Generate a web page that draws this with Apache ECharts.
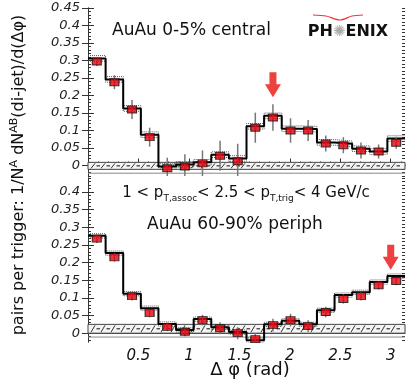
<!DOCTYPE html>
<html>
<head>
<meta charset="utf-8">
<script src="https://cdn.jsdelivr.net/npm/echarts@6/dist/echarts.min.js"></script>
<style>
  html, body { margin: 0; padding: 0; background: #fff; }
  #chart { width: 409px; height: 382px; }
</style>
</head>
<body>
<div id="chart"></div>
<script>
  // 18 bins of delta-phi over 0..pi
  const nBins = 18;
  const binWidth = Math.PI / nBins;

  // AuAu 0-5% central
  const centralPoints = [0.297, 0.238, 0.160, 0.081, -0.008, -0.003, 0.006, 0.028, 0.012,
    0.108, 0.137, 0.100, 0.100, 0.063, 0.058, 0.043, 0.040, 0.065];
  const centralErrors = [0.013, 0.020, 0.027, 0.027, 0.030, 0.035, 0.037, 0.043, 0.050,
    0.043, 0.038, 0.035, 0.030, 0.023, 0.023, 0.023, 0.020, 0.017];
  const centralModel = [0.306, 0.246, 0.163, 0.088, -0.003, 0.003, 0.009, 0.031, 0.020,
    0.112, 0.142, 0.105, 0.104, 0.066, 0.062, 0.048, 0.040, 0.077];
  const centralSys = 0.008;
  // hatched band low, high, lower outline
  const centralBand = [-0.011, 0.009, -0.022];
  const centralArrow = [1.833, 0.195];

  // AuAu 60-90% periph
  const periphPoints = [0.268, 0.215, 0.105, 0.057, 0.018, 0.004, 0.037, 0.014, 0.000,
    -0.017, 0.023, 0.037, 0.020, 0.060, 0.097, 0.105, 0.136, 0.148];
  const periphErrors = [0.012, 0.012, 0.012, 0.012, 0.012, 0.013, 0.015, 0.017, 0.017,
    0.018, 0.018, 0.018, 0.017, 0.015, 0.013, 0.012, 0.012, 0.012];
  const periphModel = [0.276, 0.227, 0.112, 0.071, 0.026, 0.009, 0.040, 0.017, 0.003,
    -0.020, 0.025, 0.035, 0.025, 0.065, 0.108, 0.116, 0.145, 0.162];
  const periphSys = 0.006;
  const periphBand = [0.0, 0.025, -0.011];
  const periphArrow = [3.0, 0.18];

  const xTickLabels = [0.5, 1, 1.5, 2, 2.5, 3];
  const yTickLabelsTop = [0, 0.05, 0.1, 0.15, 0.2, 0.25, 0.3, 0.35, 0.4, 0.45];
  const yTickLabelsBottom = [0, 0.05, 0.1, 0.15, 0.2, 0.25, 0.3, 0.35, 0.4];

  const FONT = "'DejaVu Sans', sans-serif";
  const AXIS_COLOR = '#333';
  const ARROW_PATH = 'path://M4.5,0 H11.5 V12 H16 L8,25 L0,12 H4.5 Z';

  const binCenters = centralPoints.map((v, i) => (i + 0.5) * binWidth);

  const panels = [
    { min: -0.03, max: 0.45, labels: yTickLabelsTop, showX: false,
      points: centralPoints, errors: centralErrors, model: centralModel,
      sys: centralSys, band: centralBand, arrow: centralArrow },
    { min: -0.025, max: 0.44, labels: yTickLabelsBottom, showX: true,
      points: periphPoints, errors: periphErrors, model: periphModel,
      sys: periphSys, band: periphBand, arrow: periphArrow },
  ];

  const range = (from, to, step) => {
    const out = [];
    for (let v = Math.ceil(from / step - 1e-9) * step; v <= to + 1e-9; v += step) {
      out.push(Math.round(v * 1000) / 1000);
    }
    return out;
  };

  const stepData = model => model.map((v, i) => [i * binWidth, v])
    .concat([[Math.PI, model[model.length - 1]]]);

  const grid = [
    { left: 88, right: 4, top: 8, height: 168 },
    { left: 88, right: 4, top: 178, height: 164 },
  ];

  const xAxis = [];
  const yAxis = [];
  const series = [];

  panels.forEach((p, g) => {
    const xBase = xAxis.length;
    const yBase = yAxis.length;
    const xMajor = range(0, Math.PI, 0.5);
    const xMinor = range(0, Math.PI, 0.1);
    const yMajor = range(p.min, p.max, 0.05);
    const yMinor = range(p.min, p.max, 0.01);

    xAxis.push({
      type: 'value', gridIndex: g, min: 0, max: Math.PI, position: 'bottom',
      axisLine: { lineStyle: { color: AXIS_COLOR, width: 1 } },
      axisTick: { inside: true, length: 7, customValues: xMajor, lineStyle: { color: AXIS_COLOR } },
      axisLabel: {
        show: p.showX, customValues: xTickLabels, margin: 7,
        fontFamily: FONT, fontStyle: 'italic', fontSize: 15, color: '#111',
      },
      splitLine: { show: false },
    });
    xAxis.push({
      type: 'value', gridIndex: g, min: 0, max: Math.PI, position: 'bottom',
      axisLine: { show: false },
      axisTick: { inside: true, length: 4, customValues: xMinor, lineStyle: { color: AXIS_COLOR } },
      axisLabel: { show: false },
      splitLine: { show: false },
    });
    xAxis.push({
      type: 'value', gridIndex: g, min: 0, max: Math.PI, position: 'top',
      axisLine: { show: g === 0, lineStyle: { color: '#777' } },
      axisTick: { show: false },
      axisLabel: { show: false },
      splitLine: { show: false },
    });

    ['left', 'right'].forEach((pos) => {
      yAxis.push({
        type: 'value', gridIndex: g, min: p.min, max: p.max, position: pos,
        axisLine: { show: true, lineStyle: { color: AXIS_COLOR } },
        axisTick: { inside: true, length: 6, customValues: yMajor, lineStyle: { color: AXIS_COLOR } },
        axisLabel: {
          show: pos === 'left', customValues: p.labels, margin: 8,
          fontFamily: FONT, fontStyle: 'italic', fontSize: 13, color: '#222',
        },
        splitLine: { show: false },
      });
      yAxis.push({
        type: 'value', gridIndex: g, min: p.min, max: p.max, position: pos,
        axisLine: { show: false },
        axisTick: { inside: true, length: 3, customValues: yMinor, lineStyle: { color: AXIS_COLOR } },
        axisLabel: { show: false },
        splitLine: { show: false },
      });
    });

    const ax = { xAxisIndex: xBase, yAxisIndex: yBase };

    // systematic band around zero
    series.push({
      type: 'custom', ...ax, z: 1, silent: true,
      data: [[0, p.band[0], p.band[1], p.band[2]]],
      renderItem(params, api) {
        const tl = api.coord([0, api.value(2)]);
        const br = api.coord([Math.PI, api.value(1)]);
        const floor = api.coord([0, api.value(3)])[1];
        const yMid = (tl[1] + br[1]) / 2;
        const children = [
          { type: 'rect', shape: { x: tl[0], y: tl[1], width: br[0] - tl[0], height: br[1] - tl[1] },
            style: { fill: '#f4f4f4', stroke: '#444', lineWidth: 1 } },
          { type: 'line', shape: { x1: tl[0], y1: floor, x2: br[0], y2: floor },
            style: { stroke: '#888', lineWidth: 1 } },
        ];
        for (let x = tl[0] + 3; x < br[0] - 6; x += 10) {
          children.push({ type: 'line', shape: { x1: x, y1: br[1] - 1, x2: x + 4, y2: tl[1] + 1 },
            style: { stroke: '#333', lineWidth: 1 } });
          children.push({ type: 'line', shape: { x1: x + 5.5, y1: yMid, x2: x + 9, y2: yMid },
            style: { stroke: '#333', lineWidth: 1.2 } });
        }
        return { type: 'group', children };
      },
    });

    // dotted systematic boxes of the model
    [1, -1].forEach((sgn) => {
      series.push({
        type: 'line', ...ax, step: 'end', showSymbol: false, z: 2, silent: true,
        data: stepData(p.model.map(v => v + sgn * p.sys)),
        lineStyle: { color: '#555', width: 1, type: 'dotted' },
      });
    });

    // model histogram
    series.push({
      type: 'line', ...ax, step: 'end', showSymbol: false, z: 3, silent: true,
      data: stepData(p.model),
      lineStyle: { color: '#000', width: 2 },
    });

    // statistical error bars
    series.push({
      type: 'custom', ...ax, z: 4, clip: true, silent: true,
      data: p.points.map((v, i) => [binCenters[i], v - p.errors[i], v + p.errors[i]]),
      renderItem(params, api) {
        const lo = api.coord([api.value(0), api.value(1)]);
        const hi = api.coord([api.value(0), api.value(2)]);
        return { type: 'line', shape: { x1: lo[0], y1: lo[1], x2: hi[0], y2: hi[1] },
          style: { stroke: '#777', lineWidth: 1.5 } };
      },
    });

    // data points
    series.push({
      type: 'scatter', ...ax, z: 5, silent: true,
      data: p.points.map((v, i) => [binCenters[i], v]),
      symbol: 'rect', symbolSize: [9, 7],
      itemStyle: { color: '#e8000b', borderColor: '#111', borderWidth: 1 },
    });

    // red arrow
    series.push({
      type: 'scatter', ...ax, z: 6, silent: true,
      data: [p.arrow],
      symbol: ARROW_PATH, symbolSize: [16, 25], symbolOffset: [0, '-50%'],
      itemStyle: { color: '#e8100f' },
    });
  });

  const chart = echarts.init(document.getElementById('chart'));
  chart.setOption({
    animation: false,
    backgroundColor: '#fff',
    grid,
    xAxis,
    yAxis,
    series,
    graphic: [
      {
        type: 'text', x: 19, y: 175, rotation: Math.PI / 2, silent: true,
        style: {
          text: '{m|pairs per trigger: 1/N}{s|A}{m| dN}{s|AB}{m|(di-jet)/d(Δφ)}',
          align: 'center', verticalAlign: 'middle',
          rich: {
            m: { fontFamily: FONT, fontSize: 16, lineHeight: 20, fill: '#111' },
            s: { fontFamily: FONT, fontSize: 11, verticalAlign: 'top', fill: '#111' },
          },
        },
      },
      {
        type: 'text', x: 112, y: 31, silent: true,
        style: { text: 'AuAu 0-5% central', font: `17px ${FONT}`, fill: '#111',
          align: 'left', verticalAlign: 'middle' },
      },
      {
        type: 'text', x: 348, y: 32, silent: true,
        style: {
          text: '{b|PH}{star|✺}{b|ENIX}', align: 'center', verticalAlign: 'middle',
          rich: {
            b: { fontFamily: FONT, fontWeight: 'bold', fontSize: 16, fill: '#111' },
            star: { fontFamily: FONT, fontSize: 15, fill: '#aaa' },
          },
        },
      },
      {
        type: 'polyline', silent: true,
        shape: { points: [[313, 15], [326, 16], [340, 20], [352, 16], [363, 15]], smooth: 0.3 },
        style: { stroke: '#e33', lineWidth: 1.2, fill: null },
      },
      {
        type: 'text', x: 246, y: 193, silent: true,
        style: {
          text: '{m|1 < p}{s|T,assoc}{m|< 2.5 < p}{s|T,trig}{m|< 4 GeV/c}',
          align: 'center', verticalAlign: 'middle',
          rich: {
            m: { fontFamily: FONT, fontSize: 15, lineHeight: 20, fill: '#111' },
            s: { fontFamily: FONT, fontSize: 9, verticalAlign: 'bottom', fill: '#111' },
          },
        },
      },
      {
        type: 'text', x: 147, y: 225, silent: true,
        style: { text: 'AuAu 60-90% periph', font: `17px ${FONT}`, fill: '#111',
          align: 'left', verticalAlign: 'middle' },
      },
      {
        type: 'text', x: 250, y: 370, silent: true,
        style: { text: 'Δ φ (rad)', font: `18px ${FONT}`, fill: '#111',
          align: 'center', verticalAlign: 'middle' },
      },
    ],
  });
</script>
</body>
</html>
